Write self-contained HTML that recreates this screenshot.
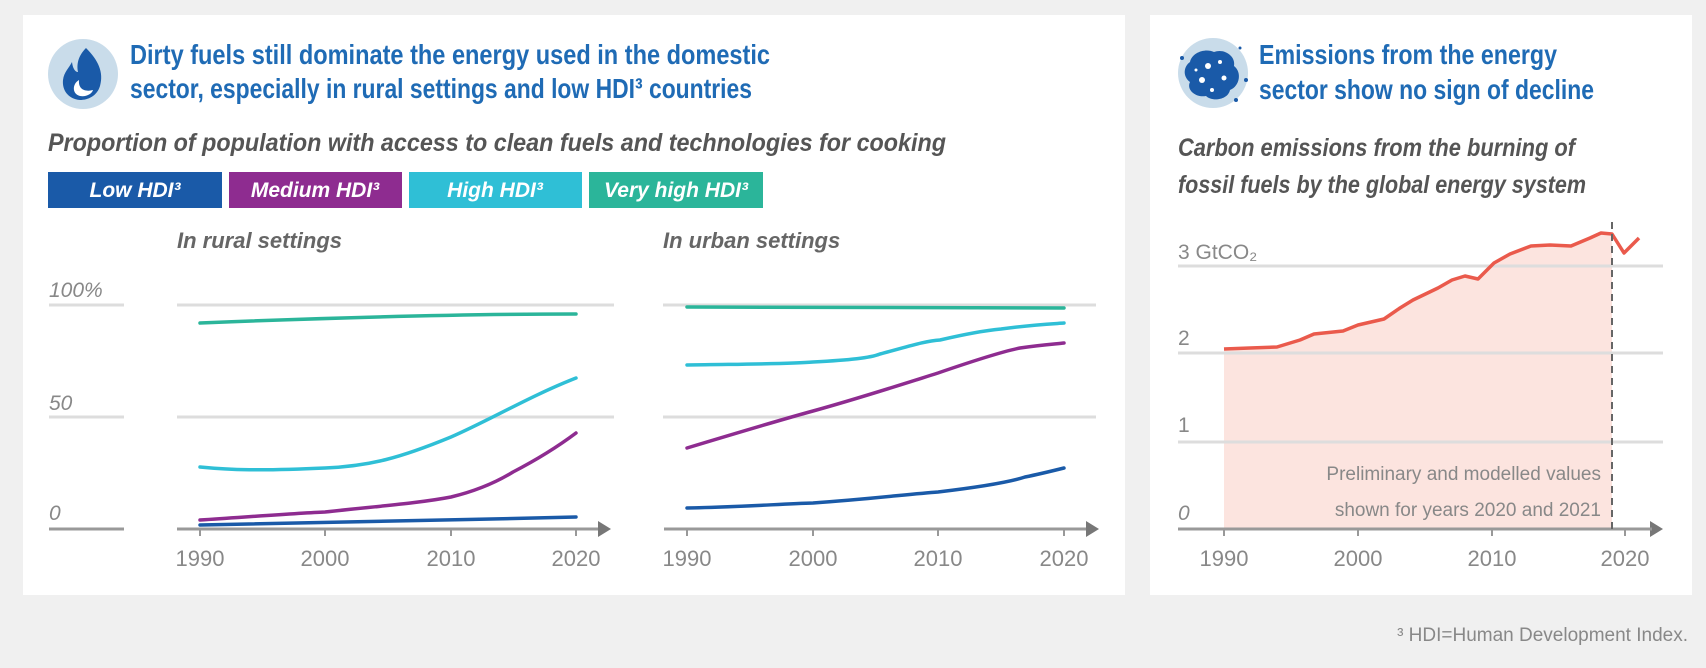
<!DOCTYPE html>
<html><head><meta charset="utf-8"><style>
html,body{margin:0;padding:0;background:#f0f0f0;}
svg{display:block;}
text{font-family:"Liberation Sans Narrow","Liberation Sans",sans-serif;}
</style></head><body>
<svg width="1706" height="668" viewBox="0 0 1706 668" xmlns="http://www.w3.org/2000/svg">
<rect width="1706" height="668" fill="#f0f0f0"/>
<rect x="23" y="15" width="1102" height="580" fill="#fff"/>
<rect x="1150" y="15" width="542" height="580" fill="#fff"/>

<!-- left icon -->
<circle cx="83" cy="74" r="35" fill="#c9dcea"/>
<path d="M86 48 C98 60 104 72 100 86 C97 96 88 100 80 100 C68 99 62 90 63 80 C64 72 69 68 72 62 C73 70 76 72 78 72 C76 62 80 54 86 48 Z" fill="#1a5aa8"/>
<path d="M79 80 C72 84 72 94 80 96 C86 97 92 94 93 90 C86 92 78 90 79 80 Z" fill="#fff"/>

<text x="130" y="64" font-size="28" font-weight="bold" fill="#1f6bb5" textLength="640" lengthAdjust="spacingAndGlyphs">Dirty fuels still dominate the energy used in the domestic</text>
<text x="130" y="98" font-size="28" font-weight="bold" fill="#1f6bb5" textLength="622" lengthAdjust="spacingAndGlyphs">sector, especially in rural settings and low HDI³ countries</text>

<text x="48" y="151" font-size="25" font-style="italic" font-weight="bold" fill="#555" textLength="898" lengthAdjust="spacingAndGlyphs">Proportion of population with access to clean fuels and technologies for cooking</text>

<rect x="48" y="172" width="174" height="36" fill="#1a5aa8"/>
<rect x="229" y="172" width="173" height="36" fill="#8e2c90"/>
<rect x="409" y="172" width="173" height="36" fill="#2fbfd6"/>
<rect x="589" y="172" width="174" height="36" fill="#2bb59a"/>
<g font-size="21" font-style="italic" font-weight="bold" fill="#fff" text-anchor="middle">
<text x="135" y="197">Low HDI³</text>
<text x="315" y="197">Medium HDI³</text>
<text x="495" y="197">High HDI³</text>
<text x="676" y="197">Very high HDI³</text>
</g>

<g font-size="22" font-style="italic" font-weight="bold" fill="#666">
<text x="177" y="248">In rural settings</text>
<text x="663" y="248">In urban settings</text>
</g>

<!-- left y labels -->
<g font-size="21" fill="#888" font-style="italic">
<text x="49" y="297">100%</text>
<text x="49" y="410">50</text>
<text x="49" y="520">0</text>
</g>
<g stroke="#ddd" stroke-width="3">
<line x1="49" y1="305" x2="124" y2="305"/>
<line x1="49" y1="417" x2="124" y2="417"/>
<line x1="177" y1="305" x2="614" y2="305"/>
<line x1="177" y1="417" x2="614" y2="417"/>
<line x1="663" y1="305" x2="1096" y2="305"/>
<line x1="663" y1="417" x2="1096" y2="417"/>
</g>
<g stroke="#999" stroke-width="3">
<line x1="49" y1="529" x2="124" y2="529"/>
<line x1="177" y1="529" x2="600" y2="529"/>
<line x1="664" y1="529" x2="1088" y2="529"/>
<line x1="1178" y1="529" x2="1652" y2="529"/>
</g>
<g fill="#777">
<polygon points="598,521 611,529 598,537"/>
<polygon points="1086,521 1099,529 1086,537"/>
<polygon points="1650,521 1663,529 1650,537"/>
</g>
<g stroke="#999" stroke-width="2">
<line x1="200" y1="529" x2="200" y2="536"/><line x1="325" y1="529" x2="325" y2="536"/><line x1="451" y1="529" x2="451" y2="536"/><line x1="576" y1="529" x2="576" y2="536"/>
<line x1="687" y1="529" x2="687" y2="536"/><line x1="813" y1="529" x2="813" y2="536"/><line x1="938" y1="529" x2="938" y2="536"/><line x1="1064" y1="529" x2="1064" y2="536"/>
<line x1="1224" y1="529" x2="1224" y2="536"/><line x1="1358" y1="529" x2="1358" y2="536"/><line x1="1492" y1="529" x2="1492" y2="536"/><line x1="1625" y1="529" x2="1625" y2="536"/>
</g>
<g font-size="22" fill="#888" text-anchor="middle">
<text x="200" y="566">1990</text><text x="325" y="566">2000</text><text x="451" y="566">2010</text><text x="576" y="566">2020</text>
<text x="687" y="566">1990</text><text x="813" y="566">2000</text><text x="938" y="566">2010</text><text x="1064" y="566">2020</text>
<text x="1224" y="566">1990</text><text x="1358" y="566">2000</text><text x="1492" y="566">2010</text><text x="1625" y="566">2020</text>
</g>

<!-- rural series -->
<g fill="none" stroke-width="3.5" stroke-linecap="round">
<path d="M200 323 C300 319 450 314 576 314" stroke="#2bb59a"/>
<path d="M200 467 C230 470 260 471 325 468 C370 466 400 458 451 437 C490 420 530 396 576 378" stroke="#2fbfd6"/>
<path d="M200 520 C260 516 300 513 325 512 C380 506 420 503 451 497 C480 490 500 480 513 472 C540 458 560 445 576 433" stroke="#8e2c90"/>
<path d="M200 525 C320 523 450 520 576 517" stroke="#1a5aa8"/>
</g>
<!-- urban series -->
<g fill="none" stroke-width="3.5" stroke-linecap="round">
<path d="M687 307 L1064 308" stroke="#2bb59a"/>
<path d="M687 365 C750 364 790 364 813 362 C850 360 870 358 880 354 C910 346 925 341 940 340 C970 333 990 330 1001 329 C1030 325 1050 324 1064 323" stroke="#2fbfd6"/>
<path d="M687 448 C740 432 780 420 813 411 C860 398 900 385 938 373 C970 362 1000 352 1020 348 C1040 345 1055 344 1064 343" stroke="#8e2c90"/>
<path d="M687 508 C740 507 780 504 813 503 C870 499 910 494 938 492 C980 487 1010 482 1025 477 C1040 474 1052 471 1064 468" stroke="#1a5aa8"/>
</g>

<!-- right panel -->
<circle cx="1213" cy="73" r="35" fill="#c9dcea"/>
<path d="M1190 62 C1192 52 1206 48 1214 52 C1224 48 1236 56 1234 66 C1242 72 1240 86 1230 90 C1228 100 1212 102 1206 96 C1196 98 1186 90 1190 82 C1182 76 1184 66 1190 62 Z" fill="#1a5aa8"/>
<g fill="#fff"><circle cx="1208" cy="66" r="3"/><circle cx="1220" cy="62" r="2"/><circle cx="1202" cy="80" r="3"/><circle cx="1224" cy="78" r="2.5"/><circle cx="1212" cy="90" r="2"/><circle cx="1196" cy="70" r="1.5"/></g>
<g fill="#1a5aa8"><circle cx="1182" cy="58" r="2"/><circle cx="1246" cy="80" r="2"/><circle cx="1236" cy="100" r="2"/><circle cx="1240" cy="48" r="1.5"/></g>

<text x="1259" y="64" font-size="28" font-weight="bold" fill="#1f6bb5" textLength="298" lengthAdjust="spacingAndGlyphs">Emissions from the energy</text>
<text x="1259" y="99" font-size="28" font-weight="bold" fill="#1f6bb5" textLength="335" lengthAdjust="spacingAndGlyphs">sector show no sign of decline</text>
<text x="1178" y="156" font-size="25" font-style="italic" font-weight="bold" fill="#555" textLength="397" lengthAdjust="spacingAndGlyphs">Carbon emissions from the burning of</text>
<text x="1178" y="193" font-size="25" font-style="italic" font-weight="bold" fill="#555" textLength="408" lengthAdjust="spacingAndGlyphs">fossil fuels by the global energy system</text>

<path d="M1224 529 L1224 349 L1250 348 L1277 347 L1300 340 L1314 334 L1343 331 L1358 325 L1384 319 L1400 308 L1413 300 L1438 288 L1452 280 L1465 276 L1478 279 L1494 263 L1510 254 L1531 246 L1550 245 L1571 246 L1590 238 L1601 233 L1612 234 L1612 529 Z" fill="#fce4df"/>
<g stroke="#ddd" stroke-width="3">
<line x1="1178" y1="266" x2="1663" y2="266"/>
<line x1="1178" y1="353" x2="1663" y2="353"/>
<line x1="1178" y1="442" x2="1663" y2="442"/>
</g>
<line x1="1178" y1="529" x2="1652" y2="529" stroke="#999" stroke-width="3"/>
<path d="M1224 349 L1250 348 L1277 347 L1300 340 L1314 334 L1343 331 L1358 325 L1384 319 L1400 308 L1413 300 L1438 288 L1452 280 L1465 276 L1478 279 L1494 263 L1510 254 L1531 246 L1550 245 L1571 246 L1590 238 L1601 233 L1612 234 L1624 253 L1639 238" fill="none" stroke="#ea5a4c" stroke-width="3.5" stroke-linejoin="round"/>
<line x1="1612" y1="222" x2="1612" y2="529" stroke="#666" stroke-width="2" stroke-dasharray="7,5"/>
<g font-size="21" fill="#888">
<text x="1178" y="259">3 GtCO₂</text>
<text x="1178" y="345">2</text>
<text x="1178" y="432">1</text>
<text x="1178" y="520" font-style="italic">0</text>
</g>
<g font-size="19" fill="#888" text-anchor="end">
<text x="1601" y="480">Preliminary and modelled values</text>
<text x="1601" y="516">shown for years 2020 and 2021</text>
</g>
<text x="1688" y="641" font-size="19" fill="#888" text-anchor="end">³ HDI=Human Development Index.</text>
</svg>
</body></html>
